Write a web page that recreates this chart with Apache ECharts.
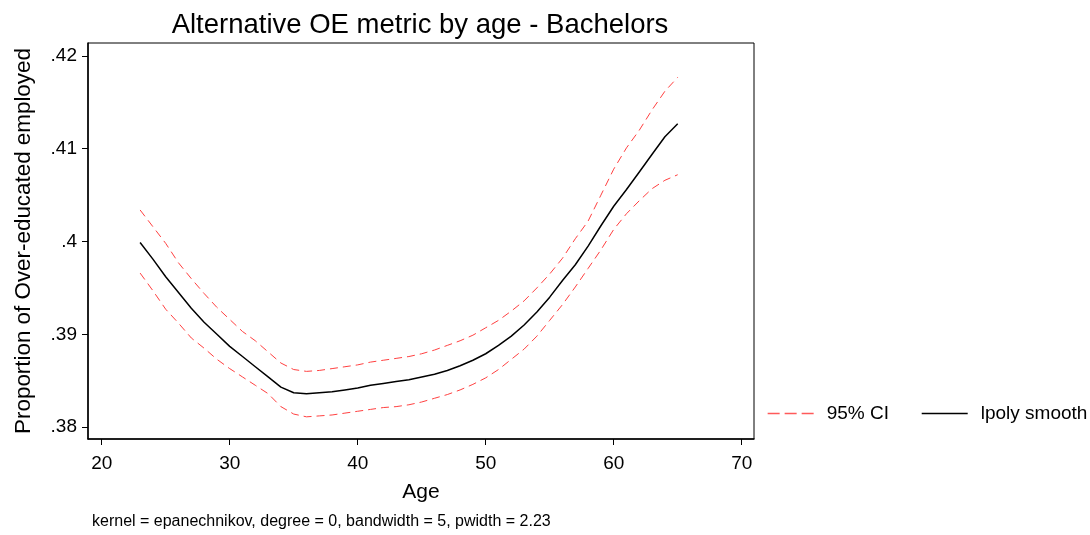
<!DOCTYPE html>
<html>
<head>
<meta charset="utf-8">
<script src="https://cdn.jsdelivr.net/npm/echarts@6/dist/echarts.min.js"></script>
<style>
  html, body { margin: 0; padding: 0; background: #fff; }
  #chart { width: 1090px; height: 535px; }
</style>
</head>
<body>
<div id="chart"></div>
<script>
// Local polynomial smooth of the over-education share by age, with 95% band
const ages = [23, 24, 25, 26, 27, 28, 29, 30, 31, 32, 33, 34, 35, 36, 37, 38, 39, 40, 41, 42, 43,
  44, 45, 46, 47, 48, 49, 50, 51, 52, 53, 54, 55, 56, 57, 58, 59, 60, 61, 62, 63, 64, 65];

const smooth = [.3999, .3981, .3962, .3945, .3928, .3913, .3900, .3887, .3876, .3865, .3854, .3843,
  .3837, .3836, .3837, .3838, .3840, .3842, .3845, .3847, .3849, .3851, .3854, .3857, .3861, .3866,
  .3872, .3879, .3888, .3898, .3910, .3924, .3940, .3958, .3975, .3995, .4017, .4038, .4056, .4075,
  .4094, .4113, .4127];

const ciUpper = [.4034, .4016, .3998, .3977, .3960, .3944, .3929, .3916, .3903, .3893, .3881, .3869,
  .3862, .3860, .3861, .3863, .3865, .3867, .3870, .3872, .3874, .3876, .3879, .3883, .3888, .3893,
  .3899, .3907, .3915, .3925, .3936, .3950, .3965, .3982, .4003, .4022, .4050, .4078, .4101, .4120,
  .4142, .4162, .4177];

const ciLower = [.3966, .3947, .3927, .3912, .3896, .3885, .3873, .3863, .3854, .3845, .3836, .3822,
  .3814, .3811, .3812, .3813, .3815, .3817, .3819, .3821, .3822, .3824, .3827, .3831, .3835, .3840,
  .3846, .3853, .3862, .3873, .3884, .3898, .3915, .3932, .3951, .3971, .3991, .4013, .4030, .4044,
  .4057, .4066, .4072];

const xTicks = [20, 30, 40, 50, 60, 70];
const yTicks = [0.38, 0.39, 0.40, 0.41, 0.42];

const pairs = (ys) => ages.map((a, i) => [a, ys[i]]);
const FONT = '"Liberation Sans", Arial, sans-serif';
const CI_RED = '#ff4040';

const chart = echarts.init(document.getElementById('chart'), null, { renderer: 'canvas' });

const ciStyle = { color: CI_RED, width: 1, type: [8, 5] };

chart.setOption({
  animation: false,
  backgroundColor: '#ffffff',
  textStyle: { fontFamily: FONT, color: '#000' },
  title: {
    text: 'Alternative OE metric by age - Bachelors',
    left: 415,
    textAlign: 'center',
    top: 6,
    textStyle: { fontFamily: FONT, fontSize: 27.5, fontWeight: 'normal', color: '#000' }
  },
  grid: {
    left: 88, right: 336, top: 43, bottom: 96,
    show: true, borderColor: '#000', borderWidth: 1, backgroundColor: '#fff'
  },
  legend: {
    orient: 'horizontal',
    left: 767, top: 404, width: 400, padding: 0,
    itemWidth: 46, itemHeight: 14, itemGap: 32,
    textStyle: { fontFamily: FONT, fontSize: 19, color: '#000', padding: [0, 0, 0, 8] },
    data: [
      { name: '95% CI', itemStyle: { opacity: 0 }, lineStyle: { color: '#ff5a5a', width: 1.3, type: [12, 5] } },
      { name: 'lpoly smooth', itemStyle: { opacity: 0 }, lineStyle: { color: '#000', width: 1.5 } }
    ]
  },
  xAxis: {
    type: 'value',
    min: 18.93, max: 70.96,
    name: 'Age',
    nameLocation: 'middle',
    nameGap: 43,
    nameTextStyle: { fontFamily: FONT, fontSize: 21, color: '#000' },
    splitLine: { show: false },
    axisLine: { show: true, onZero: false, lineStyle: { color: '#000', width: 1.5 } },
    axisTick: { show: true, customValues: xTicks, length: 6, lineStyle: { color: '#000', width: 1 } },
    axisLabel: { customValues: xTicks, margin: 15, fontFamily: FONT, fontSize: 19, color: '#000' }
  },
  yAxis: {
    type: 'value',
    min: 0.37871, max: 0.42140,
    name: 'Proportion of Over-educated employed',
    nameLocation: 'middle',
    nameGap: 53,
    nameTextStyle: { fontFamily: FONT, fontSize: 22.4, color: '#000' },
    splitLine: { show: false },
    axisLine: { show: true, onZero: false, lineStyle: { color: '#000', width: 1.5 } },
    axisTick: { show: true, customValues: yTicks, length: 6, lineStyle: { color: '#000', width: 1 } },
    axisLabel: {
      customValues: yTicks, margin: 11,
      fontFamily: FONT, fontSize: 19, color: '#000',
      formatter: (v) => String(+v.toFixed(2)).replace(/^0/, '')
    }
  },
  series: [
    {
      name: '95% CI', type: 'line', data: pairs(ciUpper),
      showSymbol: false, symbol: 'none', smooth: false,
      lineStyle: ciStyle, itemStyle: { color: CI_RED }
    },
    {
      name: '95% CI', type: 'line', data: pairs(ciLower),
      showSymbol: false, symbol: 'none', smooth: false,
      lineStyle: ciStyle, itemStyle: { color: CI_RED }
    },
    {
      name: 'lpoly smooth', type: 'line', data: pairs(smooth),
      showSymbol: false, symbol: 'none', smooth: false,
      lineStyle: { color: '#000', width: 1.5 }, itemStyle: { color: '#000' }
    }
  ],
  graphic: [
    {
      type: 'text', left: 92, top: 514,
      style: {
        text: 'kernel = epanechnikov, degree = 0, bandwidth = 5, pwidth = 2.23',
        font: '16px ' + FONT, fill: '#000'
      }
    }
  ]
});
</script>
</body>
</html>
